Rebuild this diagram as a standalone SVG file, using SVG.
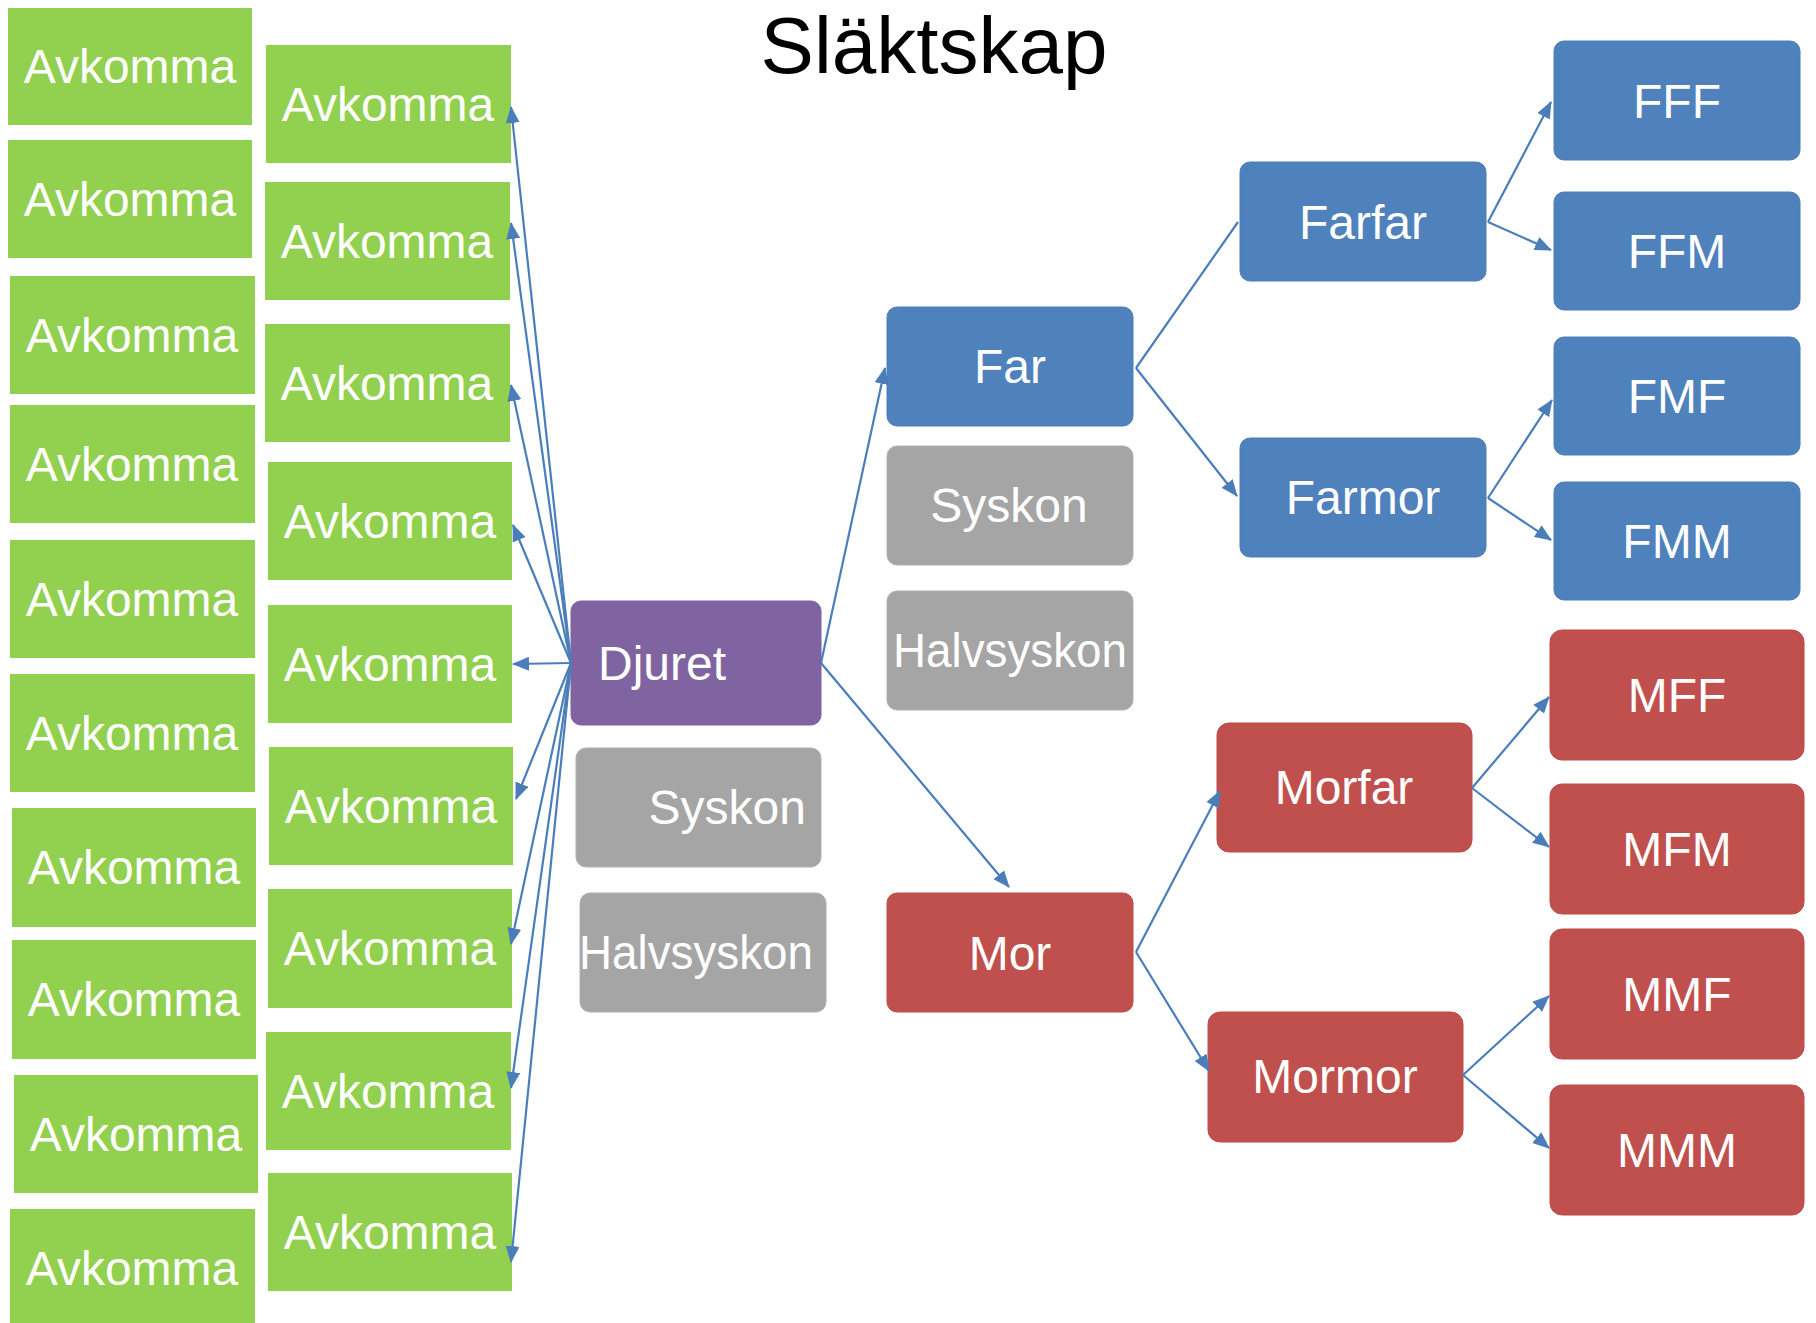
<svg xmlns="http://www.w3.org/2000/svg" width="1816" height="1323" viewBox="0 0 1816 1323">
<style>
.t{font-family:"Liberation Sans",Arial,sans-serif;font-size:48px;fill:#ffffff;text-anchor:middle}
.title{font-family:"Liberation Sans",Arial,sans-serif;font-size:80px;fill:#000000;text-anchor:middle}
.g{fill:#92D050}
.b{fill:#4F81BD;stroke:#4A7EBB;stroke-width:1}
.r{fill:#C0504D;stroke:#BE4B48;stroke-width:1}
.p{fill:#8064A2;stroke:#7D60A0;stroke-width:1}
.s{fill:#A5A5A5;stroke:#B0B0B0;stroke-width:1}
.c line{stroke:#4A7EBB;stroke-width:2.2;fill:none}
.c line.a{marker-end:url(#arr)}
</style>
<defs>
<marker id="arr" markerUnits="userSpaceOnUse" markerWidth="17" markerHeight="14" refX="16" refY="7" orient="auto">
<path d="M0,0 L17,7 L0,14 z" fill="#4A7EBB"/>
</marker>
</defs>
<rect width="1816" height="1323" fill="#ffffff"/>
<text class="title" x="934" y="73">Släktskap</text>

<g id="avk-l1"><rect class="g" x="8" y="8" width="244" height="117"/><text class="t" x="130" y="83">Avkomma</text></g>
<g id="avk-l2"><rect class="g" x="8" y="140" width="244" height="118"/><text class="t" x="130" y="216">Avkomma</text></g>
<g id="avk-l3"><rect class="g" x="10" y="276" width="245" height="118"/><text class="t" x="132" y="352">Avkomma</text></g>
<g id="avk-l4"><rect class="g" x="10" y="405" width="245" height="118"/><text class="t" x="132" y="481">Avkomma</text></g>
<g id="avk-l5"><rect class="g" x="10" y="540" width="245" height="118"/><text class="t" x="132" y="616">Avkomma</text></g>
<g id="avk-l6"><rect class="g" x="10" y="674" width="245" height="118"/><text class="t" x="132" y="750">Avkomma</text></g>
<g id="avk-l7"><rect class="g" x="12" y="808" width="244" height="119"/><text class="t" x="134" y="884">Avkomma</text></g>
<g id="avk-l8"><rect class="g" x="12" y="940" width="244" height="119"/><text class="t" x="134" y="1016">Avkomma</text></g>
<g id="avk-l9"><rect class="g" x="14" y="1075" width="244" height="118"/><text class="t" x="136" y="1151">Avkomma</text></g>
<g id="avk-l10"><rect class="g" x="10" y="1209" width="245" height="118"/><text class="t" x="132" y="1285">Avkomma</text></g>

<g id="avk-r1"><rect class="g" x="266" y="45" width="245" height="118"/><text class="t" x="388" y="121">Avkomma</text></g>
<g id="avk-r2"><rect class="g" x="265" y="182" width="245" height="118"/><text class="t" x="387" y="258">Avkomma</text></g>
<g id="avk-r3"><rect class="g" x="265" y="324" width="245" height="118"/><text class="t" x="387" y="400">Avkomma</text></g>
<g id="avk-r4"><rect class="g" x="268" y="462" width="244" height="118"/><text class="t" x="390" y="538">Avkomma</text></g>
<g id="avk-r5"><rect class="g" x="268" y="605" width="244" height="118"/><text class="t" x="390" y="681">Avkomma</text></g>
<g id="avk-r6"><rect class="g" x="269" y="747" width="244" height="118"/><text class="t" x="391" y="823">Avkomma</text></g>
<g id="avk-r7"><rect class="g" x="268" y="889" width="244" height="119"/><text class="t" x="390" y="965">Avkomma</text></g>
<g id="avk-r8"><rect class="g" x="266" y="1032" width="245" height="118"/><text class="t" x="388" y="1108">Avkomma</text></g>
<g id="avk-r9"><rect class="g" x="268" y="1173" width="244" height="118"/><text class="t" x="390" y="1249">Avkomma</text></g>

<g id="djuret"><rect class="p" x="571" y="601" width="250" height="124" rx="10"/><text class="t" x="598" y="680" style="text-anchor:start">Djuret</text></g>
<g id="syskon-1"><rect class="s" x="576" y="748" width="245" height="119" rx="10"/><text class="t" x="806" y="824" style="text-anchor:end">Syskon</text></g>
<g id="halvsyskon-1"><rect class="s" x="580" y="893" width="246" height="119" rx="10"/><text class="t" x="696" y="969" textLength="234" lengthAdjust="spacingAndGlyphs">Halvsyskon</text></g>

<g id="far"><rect class="b" x="887" y="307" width="246" height="119" rx="10"/><text class="t" x="1010" y="383">Far</text></g>
<g id="syskon-2"><rect class="s" x="887" y="446" width="246" height="119" rx="10"/><text class="t" x="1009" y="522">Syskon</text></g>
<g id="halvsyskon-2"><rect class="s" x="887" y="591" width="246" height="119" rx="10"/><text class="t" x="1010" y="667" textLength="234" lengthAdjust="spacingAndGlyphs">Halvsyskon</text></g>
<g id="mor"><rect class="r" x="887" y="893" width="246" height="119" rx="10"/><text class="t" x="1010" y="970">Mor</text></g>

<g id="farfar"><rect class="b" x="1240" y="162" width="246" height="119" rx="10"/><text class="t" x="1363" y="239">Farfar</text></g>
<g id="farmor"><rect class="b" x="1240" y="438" width="246" height="119" rx="10"/><text class="t" x="1363" y="514">Farmor</text></g>
<g id="fff"><rect class="b" x="1554" y="41" width="246" height="119" rx="10"/><text class="t" x="1677" y="118">FFF</text></g>
<g id="ffm"><rect class="b" x="1554" y="192" width="246" height="118" rx="10"/><text class="t" x="1677" y="268">FFM</text></g>
<g id="fmf"><rect class="b" x="1554" y="337" width="246" height="118" rx="10"/><text class="t" x="1677" y="413">FMF</text></g>
<g id="fmm"><rect class="b" x="1554" y="482" width="246" height="118" rx="10"/><text class="t" x="1677" y="558">FMM</text></g>

<g id="morfar"><rect class="r" x="1217" y="723" width="255" height="129" rx="12"/><text class="t" x="1344" y="804">Morfar</text></g>
<g id="mormor"><rect class="r" x="1208" y="1012" width="255" height="130" rx="12"/><text class="t" x="1335" y="1093">Mormor</text></g>
<g id="mff"><rect class="r" x="1550" y="630" width="254" height="130" rx="12"/><text class="t" x="1677" y="712">MFF</text></g>
<g id="mfm"><rect class="r" x="1550" y="784" width="254" height="130" rx="12"/><text class="t" x="1677" y="866">MFM</text></g>
<g id="mmf"><rect class="r" x="1550" y="929" width="254" height="130" rx="12"/><text class="t" x="1677" y="1011">MMF</text></g>
<g id="mmm"><rect class="r" x="1550" y="1085" width="254" height="130" rx="12"/><text class="t" x="1677" y="1167">MMM</text></g>

<g id="connectors" class="c">
<line class="a" x1="571" y1="663" x2="511" y2="107"/>
<line class="a" x1="571" y1="663" x2="511" y2="223"/>
<line class="a" x1="571" y1="663" x2="511" y2="385"/>
<line class="a" x1="571" y1="663" x2="513" y2="525"/>
<line class="a" x1="571" y1="663" x2="513" y2="664"/>
<line class="a" x1="571" y1="663" x2="516" y2="799"/>
<line class="a" x1="571" y1="663" x2="511" y2="944"/>
<line class="a" x1="571" y1="663" x2="511" y2="1088"/>
<line class="a" x1="571" y1="663" x2="511" y2="1262"/>
<line class="a" x1="821" y1="663" x2="885" y2="368"/>
<line class="a" x1="821" y1="663" x2="1009" y2="887"/>
<line x1="1136" y1="368" x2="1238" y2="222"/>
<line class="a" x1="1136" y1="368" x2="1237" y2="496"/>
<line class="a" x1="1488" y1="222" x2="1551" y2="102"/>
<line class="a" x1="1488" y1="222" x2="1551" y2="250"/>
<line class="a" x1="1488" y1="498" x2="1552" y2="400"/>
<line class="a" x1="1488" y1="498" x2="1551" y2="540"/>
<line class="a" x1="1136" y1="952" x2="1220" y2="791"/>
<line class="a" x1="1136" y1="952" x2="1209" y2="1071"/>
<line class="a" x1="1472" y1="788" x2="1549" y2="697"/>
<line class="a" x1="1472" y1="788" x2="1549" y2="847"/>
<line class="a" x1="1463" y1="1075" x2="1549" y2="996"/>
<line class="a" x1="1463" y1="1075" x2="1549" y2="1148"/>
</g>
</svg>
